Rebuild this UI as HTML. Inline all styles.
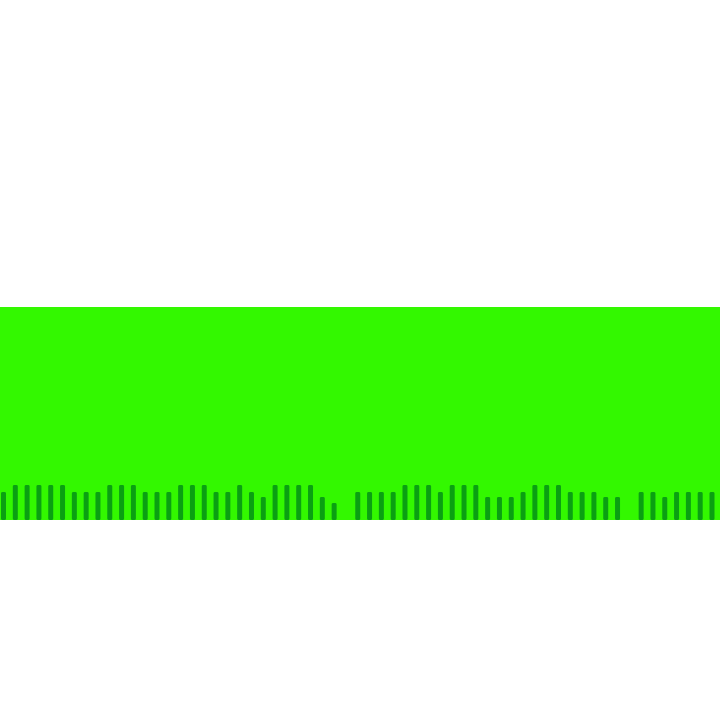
<!DOCTYPE html>
<html><head><meta charset="utf-8"><style>
html,body{margin:0;padding:0;background:#fff;width:720px;height:720px;overflow:hidden}
</style></head><body>
<svg id="chart" width="720" height="720">
<rect x="0" y="307" width="720" height="213" fill="#33f800"/>
<g id="bars"></g>
</svg>
<script>
const categories = Array.from({length:61}, (_, i) => 'c' + i);
const values = [28,35,35,35,35,35,28,28,28,35,35,35,28,28,28,35,35,35,28,28,35,28,23,35,35,35,35,23,17,0,28,
28,28,28,35,35,35,28,35,35,35,23,23,23,28,35,35,35,28,28,28,23,23,0,28,28,23,28,28,28,28];
const x0 = 3.5, x1 = 712, baseY = 520, pxPerUnit = 1;
function xScale(i){ return x0 + i * (x1 - x0) / (categories.length - 1); }
function yScale(v){ return baseY - v * pxPerUnit; }
const g = document.getElementById('bars');
values.forEach((v, i) => {
  if (!v) return;
  const r = document.createElementNS('http://www.w3.org/2000/svg', 'rect');
  r.setAttribute('x', xScale(i) - 2.5);
  r.setAttribute('y', yScale(v));
  r.setAttribute('width', 5);
  r.setAttribute('height', baseY - yScale(v));
  r.setAttribute('fill', '#0aa012');
  r.setAttribute('rx', 1.5);
  
  
  g.appendChild(r);
});
</script>
</body></html>
